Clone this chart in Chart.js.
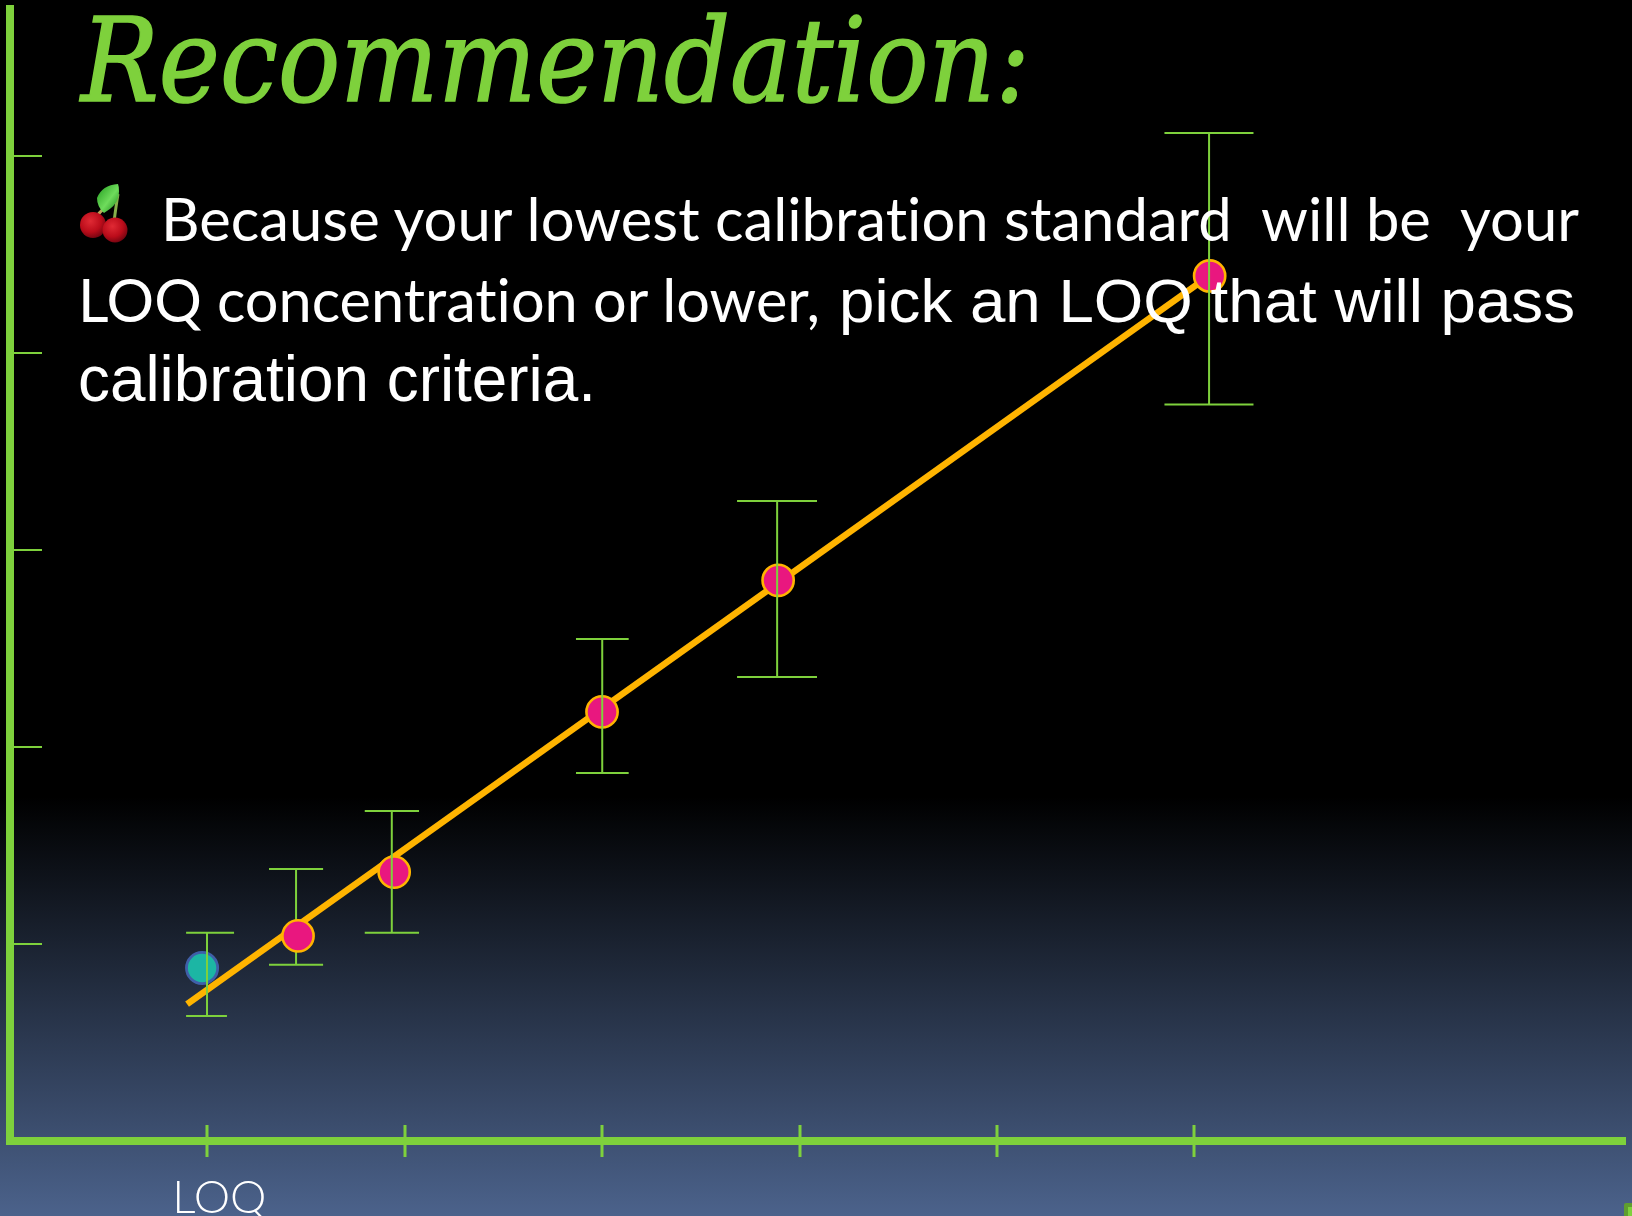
<!DOCTYPE html>
<html>
<head>
<meta charset="utf-8">
<title>Recommendation</title>
<script src="https://cdn.jsdelivr.net/npm/chart.js@4"></script>
<style>
html,body{margin:0;padding:0;width:1632px;height:1216px;overflow:hidden;background:linear-gradient(180deg,#000 0,#000 797px,#4f6792 1236px);}
#wrap{position:absolute;left:0;top:0;width:1632px;height:1216px;}
canvas{position:absolute;left:0;top:0;}
#over{position:absolute;left:0;top:0;font-variant-ligatures:none;}
#corner{position:absolute;left:1624px;top:1203px;width:8px;height:13px;background:#5f9e2e;border-radius:2px 0 0 0;}
#corner i{position:absolute;left:4px;top:4px;width:4px;height:9px;background:#7ed13c;display:block;}
</style>
</head>
<body>
<div id="wrap">
<canvas id="c" width="1632" height="1216"></canvas>
<svg id="over" width="1632" height="1216" xmlns="http://www.w3.org/2000/svg">
  <defs>
    <radialGradient id="ch" cx="40%" cy="35%" r="70%"><stop offset="0" stop-color="#e02a34"/><stop offset=".6" stop-color="#bb0c1a"/><stop offset="1" stop-color="#6d0410"/></radialGradient>
    <linearGradient id="lf" x1="0" y1="0" x2="1" y2="1"><stop offset="0" stop-color="#1f9a1c"/><stop offset=".55" stop-color="#6fdc5c"/><stop offset="1" stop-color="#128012"/></linearGradient>
  </defs>
  <path d="M96 218 Q99 212 105 208" stroke="#b9a65a" stroke-width="3" fill="none"/>
  <path d="M114 222 Q116 206 118 194" stroke="#86b04a" stroke-width="3" fill="none"/>
  <path d="M118 184 Q102 185 97 198 Q97 207 104 213 Q116 206 118 198 Q120 190 118 184Z" fill="url(#lf)"/>
  <circle cx="93" cy="225" r="13" fill="url(#ch)"/>
  <circle cx="115" cy="230" r="12.5" fill="url(#ch)"/>
  <text x="81" y="101" font-family="DejaVu Serif" font-style="italic" font-size="116" fill="#7ed13c" stroke="#7ed13c" stroke-width="1.6" textLength="949" lengthAdjust="spacingAndGlyphs">Recommendation:</text>
  <text x="161" y="241" font-family="Lato" font-size="60" fill="#fff" xml:space="preserve" textLength="1418" lengthAdjust="spacingAndGlyphs">Because your lowest calibration standard  will be  your</text>
  <text x="78" y="322" font-family="Lato" font-size="60" fill="#fff" textLength="742" lengthAdjust="spacingAndGlyphs">LOQ concentration or lower,</text>
  <text x="839" y="322" font-family="Liberation Sans" font-size="62" fill="#fff" textLength="736" lengthAdjust="spacingAndGlyphs">pick an LOQ that will pass</text>
  <text x="78" y="401" font-family="Liberation Sans" font-size="64" fill="#fff" textLength="518" lengthAdjust="spacingAndGlyphs">calibration criteria.</text>
</svg>
<div id="corner"><i></i></div>
</div>
<script>
// Axis ticks and labels
const xTickValues = [1, 2, 3, 4, 5, 6];
const yTickValues = [1, 2, 3, 4, 5];
const xTickLabels = ['LOQ', '', '', '', '', ''];

// Calibration points
const lowPointX = [0.973];
const lowPointY = [0.878];
const calPointX = [1.459, 1.946, 2.999, 3.891, 6.077];
const calPointY = [1.041, 1.365, 2.178, 2.846, 4.391];

// Fitted line
const fitX = [0.897, 6.074];
const fitY = [0.695, 4.391];

// Error bars: stem position, top, bottom, and the cap ends
const errX        = [0.998, 1.449, 1.934, 3.000, 3.886, 6.074];
const errTop      = [1.057, 1.381, 1.675, 2.548, 3.249, 5.117];
const errBottom   = [0.635, 0.895, 1.057, 1.868, 2.355, 3.738];
const capTopLeft  = [0.892, 1.312, 1.797, 2.867, 3.683, 5.848];
const capTopRight = [1.135, 1.586, 2.072, 3.134, 4.088, 6.299];
const capBotLeft  = [0.892, 1.312, 1.797, 2.867, 3.683, 5.848];
const capBotRight = [1.099, 1.586, 2.072, 3.134, 4.088, 6.299];
// The second bar passes behind its marker; the others pass in front.
const behindMarkers = [1];

const GREEN = '#7ed13c';
const pts = (xs, ys) => xs.map((x, i) => ({x, y: ys[i]}));
function errorPath(indices) {
  const out = [];
  indices.forEach(i => {
    out.push({x: capTopLeft[i], y: errTop[i]}, {x: capTopRight[i], y: errTop[i]}, {x: errX[i], y: null});
    out.push({x: errX[i], y: errTop[i]}, {x: errX[i], y: errBottom[i]}, {x: errX[i], y: null});
    out.push({x: capBotLeft[i], y: errBottom[i]}, {x: capBotRight[i], y: errBottom[i]}, {x: errX[i], y: null});
  });
  return out;
}
const errStyle = {showLine: true, spanGaps: false, pointRadius: 0, borderColor: GREEN, borderWidth: 2, tension: 0};
const inFront = errX.map((_, i) => i).filter(i => !behindMarkers.includes(i));

const crossTicks = {
  id: 'crossTicks',
  afterDatasetsDraw(chart) {
    const {ctx, scales: {x, y}} = chart;
    ctx.save();
    ctx.strokeStyle = GREEN;
    ctx.lineWidth = 3;
    ctx.beginPath();
    xTickValues.forEach(v => {
      const p = Math.round(x.getPixelForValue(v));
      ctx.moveTo(p, y.bottom - 16); ctx.lineTo(p, y.bottom + 16);
    });
    ctx.stroke();
    ctx.lineWidth = 2;
    ctx.beginPath();
    yTickValues.forEach(v => {
      const p = Math.round(y.getPixelForValue(v));
      ctx.moveTo(x.left, p); ctx.lineTo(x.left + 32, p);
    });
    ctx.stroke();
    ctx.restore();
  }
};

new Chart(document.getElementById('c'), {
  type: 'scatter',
  plugins: [crossTicks],
  data: {datasets: [
    {label: 'Fit', data: pts(fitX, fitY), showLine: true, pointRadius: 0, borderColor: '#ffb400', borderWidth: 6.5, order: 5},
    {label: 'Error behind', data: errorPath(behindMarkers), ...errStyle, order: 4},
    {label: 'Calibration', data: pts(calPointX, calPointY), pointRadius: 15.6, pointBorderWidth: 2.6, pointBackgroundColor: '#e9177f', pointBorderColor: '#ffb400', order: 3},
    {label: 'Below LOQ', data: pts(lowPointX, lowPointY), pointRadius: 15.6, pointBorderWidth: 2.8, pointBackgroundColor: '#1cb6a4', pointBorderColor: '#3f5fa8', order: 3},
    {label: 'Error', data: errorPath(inFront), ...errStyle, order: 2}
  ]},
  options: {
    responsive: false,
    animation: false,
    events: [],
    layout: {autoPadding: false, padding: {left: 0, bottom: 0, top: 9, right: 6}},
    plugins: {legend: {display: false}, tooltip: {enabled: false}, title: {display: false}},
    scales: {
      x: {
        type: 'linear', min: 0, max: 8.186,
        afterBuildTicks: s => { s.ticks = xTickValues.map(v => ({value: v})); },
        afterFit: s => { s.height = 75; },
        grid: {display: false, lineWidth: 0, drawTicks: false},
        border: {display: true, color: GREEN, width: 8},
        ticks: {
          autoSkip: false, maxRotation: 0, color: '#ffffff', padding: 30, labelOffset: 12,
          font: {family: 'Lato', size: 46, weight: '300'},
          callback: v => xTickLabels[xTickValues.indexOf(v)] ?? ''
        }
      },
      y: {
        type: 'linear', min: 0, max: 5.746,
        afterBuildTicks: s => { s.ticks = yTickValues.map(v => ({value: v})); },
        afterFit: s => { s.width = 10; },
        grid: {display: false, lineWidth: 0, drawTicks: false},
        border: {display: true, color: GREEN, width: 8},
        ticks: {display: false}
      }
    }
  }
});
</script>
</body>
</html>
